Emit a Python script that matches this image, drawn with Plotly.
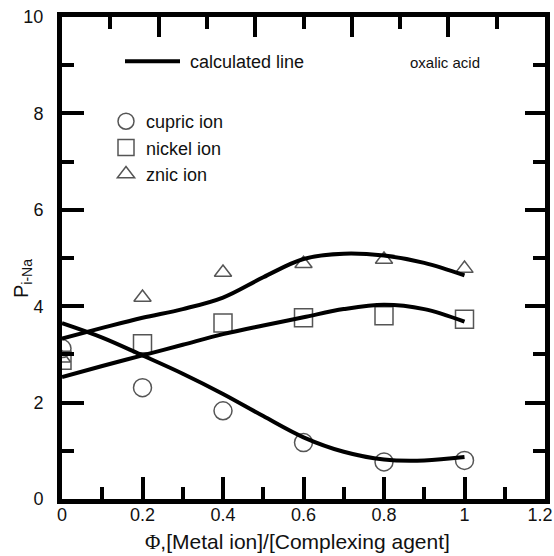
import plotly.graph_objects as go

# experimental points
phi_exp = [0.0, 0.2, 0.4, 0.6, 0.8, 1.0]
cupric = [3.12, 2.31, 1.83, 1.17, 0.77, 0.80]
nickel = [2.88, 3.22, 3.65, 3.76, 3.80, 3.73]
zinc = [2.92, 4.18, 4.70, 4.88, 4.97, 4.78]

# calculated lines
phi_calc = [0.0, 0.1, 0.2, 0.3, 0.4, 0.5, 0.6, 0.7, 0.8, 0.9, 1.0]
cupric_calc = [3.65, 3.35, 2.98, 2.60, 2.18, 1.72, 1.28, 0.98, 0.82, 0.80, 0.87]
nickel_calc = [2.53, 2.76, 2.98, 3.20, 3.42, 3.60, 3.77, 3.94, 4.03, 3.94, 3.68]
zinc_calc = [3.33, 3.55, 3.76, 3.94, 4.18, 4.60, 4.98, 5.09, 5.05, 4.90, 4.64]

# tick labels
x_ticks = [0, 0.2, 0.4, 0.6, 0.8, 1.0]
x_ticklabels = ["0", "0.2", "0.4", "0.6", "0.8", "1"]
x_edge_tick = [1.2]
x_edge_label = ["1.2"]
y_ticks = [0, 2, 4, 6, 8, 10]
y_ticklabels = ["0", "2", "4", "6", "8", "10"]

FONT = "Liberation Sans, Arial, sans-serif"
MCOL = "#555555"

L, R, T, B = 62, 9, 17, 57
PW, PH = 554 - L - R, 556 - T - B


def px(xp):
    return (xp - L) / PW


def py(yp):
    return (556 - B - yp) / PH


fig = go.Figure()

for name, ys, sym, size in [("cupric ion", cupric, "circle-open", 18),
                            ("nickel ion", nickel, "square-open", 18),
                            ("znic ion", zinc, "triangle-up-open", 15)]:
    fig.add_trace(go.Scatter(x=phi_exp, y=ys, mode="markers", name=name, legendgroup=name,
                             marker=dict(symbol=sym, size=size, color=MCOL,
                                         line=dict(width=1.5, color=MCOL)),
                             legend="legend2", showlegend=True))

for i, ys in enumerate([cupric_calc, nickel_calc, zinc_calc]):
    fig.add_trace(go.Scatter(x=phi_calc, y=ys, mode="lines", name="\u00a0calculated line",
                             line=dict(color="black", width=4, shape="spline", smoothing=1.0),
                             legend="legend", showlegend=(i == 0)))

# dummy traces for the extra axes (top, right, edge label)
fig.add_trace(go.Scatter(x=[None], y=[None], xaxis="x2", yaxis="y2", showlegend=False))
fig.add_trace(go.Scatter(x=[None], y=[None], xaxis="x3", yaxis="y", showlegend=False))

axis_common = dict(showline=True, linewidth=5, linecolor="black", ticks="inside",
                   tickwidth=4, tickcolor="black", showgrid=False, zeroline=False)

fig.update_layout(
    width=554, height=556,
    margin=dict(l=L, r=R, t=T, b=B, autoexpand=False),
    plot_bgcolor="white", paper_bgcolor="white",
    font=dict(family=FONT, size=18, color="#111111"),
    xaxis=dict(range=[0, 1.2], tickvals=x_ticks, ticktext=x_ticklabels, ticklen=22,
               minor=dict(dtick=0.1, tick0=0, ticklen=12, tickwidth=4, tickcolor="black", ticks="inside"),
               tickfont=dict(size=18), ticklabelstandoff=-5,
               automargin=False, **axis_common),
    xaxis3=dict(range=[0, 1.2], tickvals=x_edge_tick, ticktext=x_edge_label, overlaying="x",
                anchor="y", side="bottom", showline=False, ticks="", showgrid=False, zeroline=False,
                tickfont=dict(size=18), ticklabelstandoff=3, ticklabelshift=-5,
                ticklabeloverflow="allow", automargin=False),
    yaxis=dict(range=[0, 10], tickvals=y_ticks, ticktext=y_ticklabels, ticklen=22,
               minor=dict(dtick=1, tick0=0, ticklen=12, tickwidth=4, tickcolor="black", ticks="inside"),
               tickfont=dict(size=18), ticklabelstandoff=10, ticklabeloverflow="allow",
               automargin=False, **axis_common),
    xaxis2=dict(range=[0, 1.2], dtick=0.24, tick0=0, ticklen=20, overlaying="x", side="top",
                showticklabels=False,
                minor=dict(dtick=0.12, tick0=0, ticklen=12, tickwidth=4, tickcolor="black", ticks="inside"),
                **axis_common),
    yaxis2=dict(range=[0, 10], dtick=2, tick0=0, ticklen=20, overlaying="y", side="right",
                showticklabels=False,
                minor=dict(dtick=1, tick0=0, ticklen=12, tickwidth=4, tickcolor="black", ticks="inside"),
                **axis_common),
    legend=dict(x=px(120), y=py(43), xanchor="left", yanchor="top", bgcolor="rgba(0,0,0,0)",
                font=dict(size=18), itemwidth=55),
    legend2=dict(x=px(106), y=py(103), xanchor="left", yanchor="top", bgcolor="rgba(0,0,0,0)",
                 font=dict(size=18), traceorder="grouped", tracegroupgap=0),
    annotations=[
        dict(text="oxalic acid", xref="paper", yref="paper",
             x=px(445), y=py(62), showarrow=False, xanchor="center", yanchor="middle",
             font=dict(size=15, color="#111111")),
        dict(text="<span style='font-family:Liberation Serif, Times New Roman, serif'>Φ</span>,[Metal ion]/[Complexing agent]",
             xref="paper", yref="paper", x=px(297), y=py(542), showarrow=False,
             xanchor="center", yanchor="middle", font=dict(size=21, color="#111111")),
        dict(text="P<sub>i-Na</sub>", xref="paper", yref="paper", x=px(22), y=py(279),
             showarrow=False, textangle=-90, xanchor="center", yanchor="middle",
             font=dict(size=20, color="#111111")),
    ],
)

fig.write_html("out.html")
